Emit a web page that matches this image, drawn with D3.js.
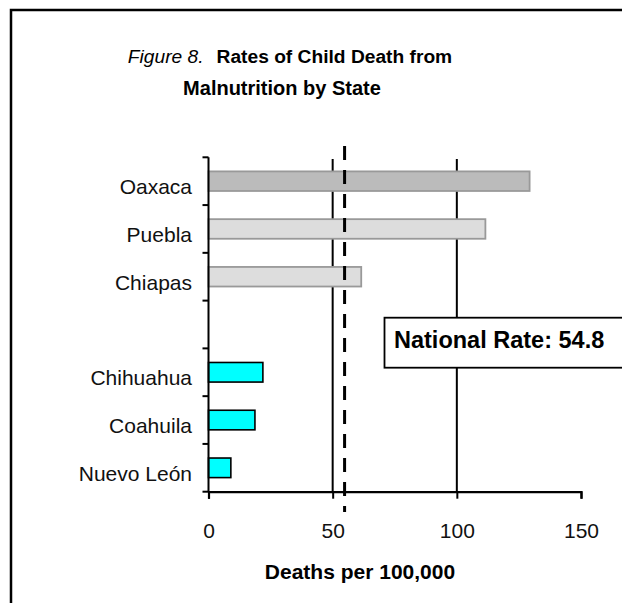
<!DOCTYPE html>
<html>
<head>
<meta charset="utf-8">
<script src="https://cdn.jsdelivr.net/npm/d3@7"></script>
<style>
  html, body { margin: 0; padding: 0; background: #fff; }
  svg { display: block; font-family: Arial, "Liberation Sans", sans-serif; }
</style>
</head>
<body>
<svg id="chart" width="622" height="603"></svg>
<script>
// States (an empty slot separates the southern and northern groups)
const states = ["Oaxaca", "Puebla", "Chiapas", "", "Chihuahua", "Coahuila", "Nuevo León"];
// Child deaths from malnutrition per 100,000
const rates = [129.3, 111.5, 61.5, null, 21.9, 18.7, 9.0];
// Region group of each state
const groups = ["highest", "south", "south", null, "north", "north", "north"];
// National reference rate
const nationalRate = 54.8;
// X axis ticks
const xTicks = [0, 50, 100, 150];

const svg = d3.select("#chart");

// Outer frame
svg.append("rect")
  .attr("x", 11).attr("y", 10)
  .attr("width", 700).attr("height", 700)
  .attr("fill", "none").attr("stroke", "#000").attr("stroke-width", 2.5);

// Title
const title = svg.append("text")
  .attr("x", 290).attr("y", 63)
  .attr("text-anchor", "middle")
  .attr("font-size", 19.2);
title.append("tspan").attr("font-style", "italic").text("Figure 8.");
title.append("tspan").attr("dx", 13).attr("font-weight", "bold").text("Rates of Child Death from");
svg.append("text")
  .attr("x", 282).attr("y", 95)
  .attr("text-anchor", "middle")
  .attr("font-size", 20).attr("font-weight", "bold")
  .text("Malnutrition by State");

// Scales
const x = d3.scaleLinear().domain([0, 150]).range([208.5, 581]);
const y = d3.scaleBand().domain(states).range([157.3, 491.7])
  .paddingInner(0.59).paddingOuter(0.295);
const color = d3.scaleOrdinal()
  .domain(["highest", "south", "north"])
  .range(["#bbbbbb", "#dddddd", "#00ffff"]);
const strokeColor = d3.scaleOrdinal()
  .domain(["highest", "south", "north"])
  .range(["#999999", "#999999", "#000000"]);

// Vertical gridlines
svg.append("g")
  .selectAll("line")
  .data(xTicks.filter(t => t > 0 && t < 150))
  .join("line")
  .attr("x1", d => x(d)).attr("x2", d => x(d))
  .attr("y1", 159).attr("y2", 491.7)
  .attr("stroke", "#000").attr("stroke-width", 2);

// Bars
svg.append("g")
  .selectAll("rect")
  .data(states.map((s, i) => ({ state: s, rate: rates[i], group: groups[i] })).filter(d => d.rate != null))
  .join("rect")
  .attr("x", x(0))
  .attr("y", d => y(d.state))
  .attr("width", d => x(d.rate) - x(0))
  .attr("height", y.bandwidth())
  .attr("fill", d => color(d.group))
  .attr("stroke", d => strokeColor(d.group))
  .attr("stroke-width", d => d.group === "north" ? 1.6 : 1.8);

// Y axis: line with ticks at band boundaries
const yAxis = svg.append("g");
const step = y.step();
const y0 = y.range()[0];
yAxis.append("line")
  .attr("x1", x(0)).attr("x2", x(0))
  .attr("y1", y0).attr("y2", y.range()[1])
  .attr("stroke", "#000").attr("stroke-width", 2);
yAxis.selectAll("line.tick")
  .data(d3.range(states.length + 1))
  .join("line")
  .attr("class", "tick")
  .attr("x1", x(0) - 6).attr("x2", x(0))
  .attr("y1", i => y0 + i * step).attr("y2", i => y0 + i * step)
  .attr("stroke", "#000").attr("stroke-width", 2);
yAxis.selectAll("text")
  .data(states.filter(s => s !== ""))
  .join("text")
  .attr("x", 192)
  .attr("y", d => y(d) + y.bandwidth() / 2 + 13)
  .attr("text-anchor", "end")
  .attr("font-size", 21)
  .attr("fill", "#111")
  .text(d => d);

// X axis
const xAxis = d3.axisBottom(x)
  .tickValues(xTicks)
  .tickSize(7)
  .tickPadding(24)
  .tickFormat(d3.format("d"));
const gx = svg.append("g")
  .attr("transform", `translate(0,${y.range()[1]})`)
  .call(xAxis);
gx.select(".domain").attr("stroke", "#000").attr("stroke-width", 2.2);
gx.selectAll(".tick line").attr("stroke", "#000").attr("stroke-width", 2);
gx.selectAll(".tick text")
  .attr("font-size", 21)
  .attr("font-family", "Arial, 'Liberation Sans', sans-serif")
  .attr("fill", "#111");

// Axis title
svg.append("text")
  .attr("x", 360).attr("y", 579)
  .attr("text-anchor", "middle")
  .attr("font-size", 21).attr("font-weight", "bold")
  .text("Deaths per 100,000");

// National rate reference line
svg.append("line")
  .attr("x1", x(nationalRate)).attr("x2", x(nationalRate))
  .attr("y1", 146).attr("y2", 512)
  .attr("stroke", "#000").attr("stroke-width", 3)
  .attr("stroke-dasharray", "14,10");

// National rate label box
svg.append("rect")
  .attr("x", 384.5).attr("y", 317.7)
  .attr("width", 300).attr("height", 50)
  .attr("fill", "#fff").attr("stroke", "#000").attr("stroke-width", 1.8);
svg.append("text")
  .attr("x", 394).attr("y", 347.5)
  .attr("font-size", 23.5).attr("font-weight", "bold")
  .text(`National Rate: ${nationalRate}`);
</script>
</body>
</html>
